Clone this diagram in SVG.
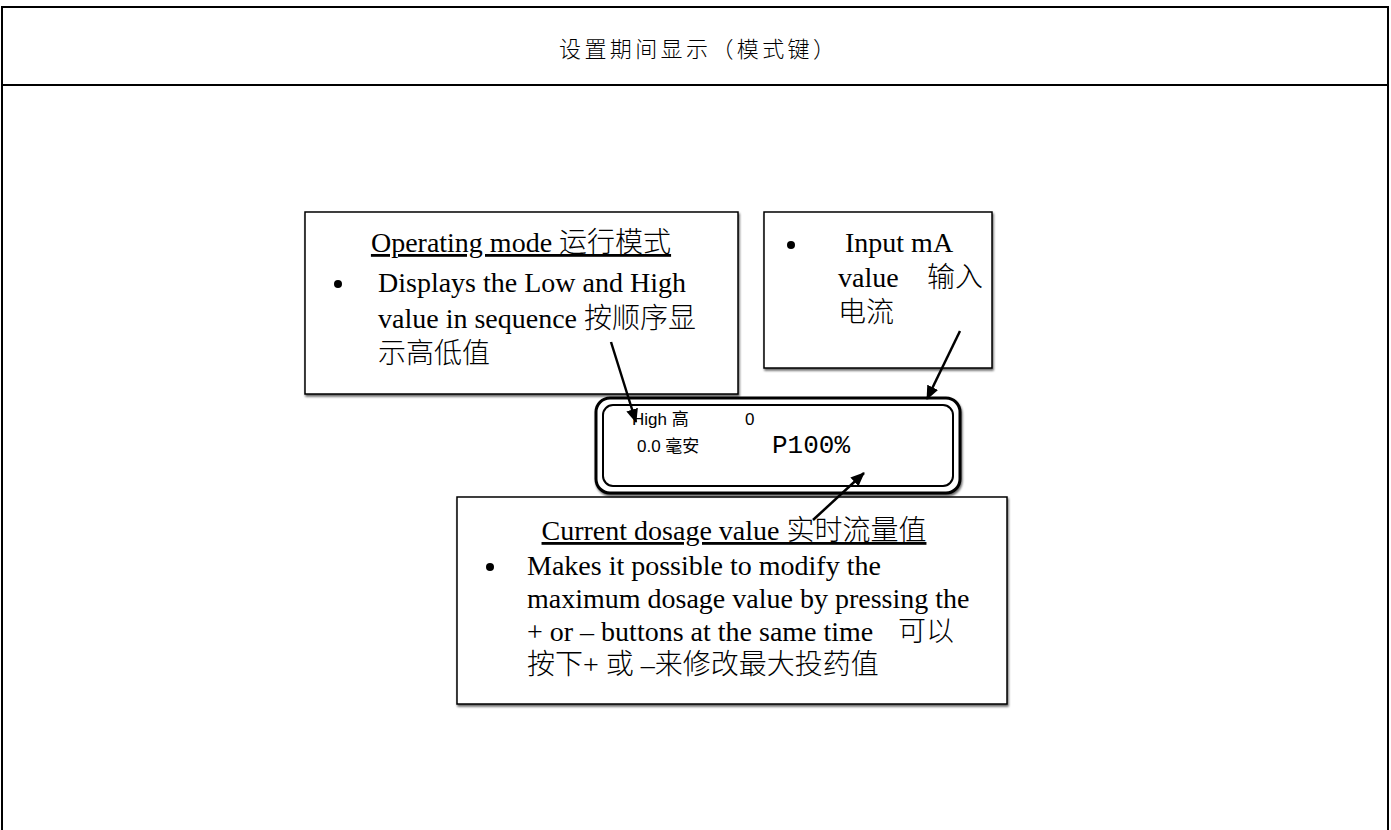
<svg xmlns="http://www.w3.org/2000/svg" width="1391" height="830" viewBox="0 0 1391 830">
<defs>
<style>
.frame{fill:none;stroke:#000;stroke-width:2}
.box{fill:#fff;stroke:#000;stroke-width:1.5}
.t{font-family:"Liberation Serif","Noto Sans CJK SC",serif;font-size:28px;font-weight:300;fill:#000}
.s{font-family:"Liberation Sans","Noto Sans CJK SC",sans-serif;font-size:17px;fill:#000}
.m{font-family:"Liberation Mono",monospace;font-size:26px;fill:#000}
.title{font-family:"Noto Sans CJK SC",sans-serif;font-size:22px;font-weight:300;fill:#000}
.conn{stroke:#000;stroke-width:2.5;fill:none}
</style>
<marker id="ah" markerWidth="14" markerHeight="12" refX="13" refY="6" orient="auto" markerUnits="userSpaceOnUse" viewBox="0 0 14 12">
<path d="M0,0 L14,6 L0,12 z" fill="#000"/>
</marker>
<filter id="sh" x="-5%" y="-5%" width="110%" height="115%">
<feDropShadow dx="1" dy="2" stdDeviation="0.8" flood-color="#000" flood-opacity="0.6"/>
</filter>
</defs>
<rect width="1391" height="830" fill="#fff"/>
<g id="frame">
<path class="frame" d="M2,840 V7 H1388 V840"/>
<line class="frame" x1="2" y1="85" x2="1388" y2="85"/>
<text class="title" x="559" y="57" textLength="276" lengthAdjust="spacing">设置期间显示（模式键）</text>
</g>
<g id="operating-mode">
<rect class="box" x="305" y="212" width="433" height="182" filter="url(#sh)"/>
<text class="t" x="521" y="252" text-anchor="middle" text-decoration="underline">Operating mode 运行模式</text>
<circle cx="338" cy="284" r="4" fill="#000"/>
<text class="t" x="378" y="292">Displays the Low and High</text>
<text class="t" x="378" y="328">value in sequence 按顺序显</text>
<text class="t" x="378" y="363">示高低值</text>
</g>
<g id="input-ma">
<rect class="box" x="764" y="212" width="228" height="156" filter="url(#sh)"/>
<circle cx="791" cy="245" r="4" fill="#000"/>
<text class="t" x="845" y="252">Input mA</text>
<text class="t" x="838" y="287">value</text>
<text class="t" x="927" y="287">输入</text>
<text class="t" x="838" y="322">电流</text>
</g>
<g id="current-dosage">
<rect class="box" x="457" y="497" width="550" height="207" filter="url(#sh)"/>
<text class="t" x="734" y="540" text-anchor="middle" text-decoration="underline">Current dosage value 实时流量值</text>
<circle cx="490" cy="567" r="4" fill="#000"/>
<text class="t" x="527" y="575">Makes it possible to modify the</text>
<text class="t" x="527" y="608">maximum dosage value by pressing the</text>
<text class="t" x="527" y="641">+ or – buttons at the same time</text>
<text class="t" x="898" y="641">可以</text>
<text class="t" x="527" y="674">按下+ 或 –来修改最大投药值</text>
</g>
<g id="lcd">
<rect x="596" y="398" width="364" height="95" rx="14" fill="#fff" stroke="#000" stroke-width="3" filter="url(#sh)"/>
<rect x="603" y="405" width="350" height="81" rx="10" fill="none" stroke="#000" stroke-width="2"/>
<text class="s" x="632" y="425">High 高</text>
<text class="s" x="745" y="425">0</text>
<text class="s" x="637" y="452">0.0 毫安</text>
<text class="m" x="772" y="453">P100%</text>
</g>
<g id="connectors">
<line class="conn" x1="611" y1="342" x2="636" y2="422" marker-end="url(#ah)"/>
<line class="conn" x1="960" y1="331" x2="927" y2="399" marker-end="url(#ah)"/>
<line class="conn" x1="813" y1="520" x2="864" y2="473" marker-end="url(#ah)"/>
</g>
</svg>
